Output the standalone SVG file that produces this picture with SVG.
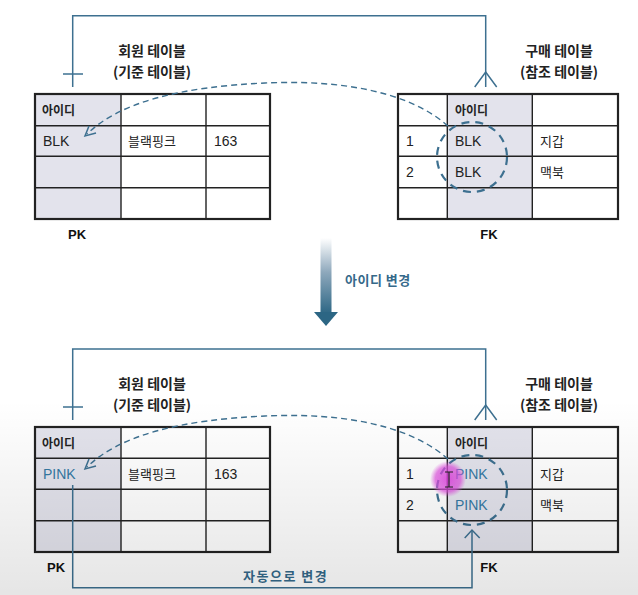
<svg xmlns="http://www.w3.org/2000/svg" width="638" height="595" viewBox="0 0 638 595">
<defs>
<style>
.title{font-family:"Noto Sans CJK KR","Liberation Sans",sans-serif;font-size:14px;font-weight:bold;fill:#222;text-anchor:middle;}
.hdr{font-family:"Noto Sans CJK KR",sans-serif;font-size:12px;font-weight:bold;fill:#222;}
.cell{font-family:"Liberation Sans","Noto Sans CJK KR",sans-serif;font-size:14px;fill:#222;}
.kr{font-family:"Noto Sans CJK KR",sans-serif;font-size:13px;fill:#222;}
.pink{fill:#3579a3;}
.key{font-family:"Liberation Sans",sans-serif;font-size:13px;font-weight:bold;fill:#111;text-anchor:middle;}
.note{font-family:"Noto Sans CJK KR",sans-serif;font-size:13px;font-weight:bold;fill:#35698a;letter-spacing:1.5px;}
.shade{fill:#e3e3ec;}
.outer{fill:none;stroke:#222;stroke-width:2.2;}
.grid{stroke:#222;stroke-width:1.4;fill:none;}
.conn{fill:none;stroke:#3d7090;stroke-width:1.5;}
.dash{fill:none;stroke:#3d7090;stroke-width:1.4;stroke-dasharray:6 4;}
.circ{fill:none;stroke:#3d7090;stroke-width:2.2;stroke-dasharray:8 6;}
</style>
<linearGradient id="arrowGrad" x1="0" y1="0" x2="0" y2="1">
<stop offset="0" stop-color="#ffffff"/>
<stop offset="0.45" stop-color="#8ea8bc"/>
<stop offset="1" stop-color="#2c6684"/>
</linearGradient>
<linearGradient id="bgShade" x1="0" y1="0" x2="0" y2="1">
<stop offset="0" stop-color="#000" stop-opacity="0"/>
<stop offset="1" stop-color="#000" stop-opacity="0.1"/>
</linearGradient>
<radialGradient id="pinkGlow">
<stop offset="0" stop-color="#e040e0" stop-opacity="0.85"/>
<stop offset="0.7" stop-color="#e050e0" stop-opacity="0.7"/>
<stop offset="1" stop-color="#e060e0" stop-opacity="0"/>
</radialGradient>
</defs>
<rect width="638" height="595" fill="#ffffff"/>

<!-- ===== TOP ===== -->
<g id="member-table-top">
<text class="title" x="152" y="56">회원 테이블</text>
<text class="title" x="152" y="77">(기준 테이블)</text>
<rect class="shade" x="35" y="94" width="86" height="125"/>
<path class="grid" d="M121,94V219M206,94V219M35,125.7H270M35,156.3H270M35,187.7H270"/>
<rect class="outer" x="35" y="94" width="235" height="125"/>
<text class="hdr" x="42" y="115">아이디</text>
<text class="cell" x="43" y="146">BLK</text>
<text class="kr" x="128" y="146">블랙핑크</text>
<text class="cell" x="214" y="146">163</text>
<text class="key" x="77" y="239">PK</text>
</g>

<g id="purchase-table-top">
<text class="title" x="559" y="56">구매 테이블</text>
<text class="title" x="559" y="77">(참조 테이블)</text>
<rect class="shade" x="447.3" y="94" width="85" height="125"/>
<path class="grid" d="M447.3,94V219M532.3,94V219M398,125.7H618M398,156.3H618M398,187.7H618"/>
<rect class="outer" x="398" y="94" width="220" height="125"/>
<text class="hdr" x="455" y="115">아이디</text>
<text class="cell" x="406" y="146">1</text>
<text class="cell" x="455" y="146">BLK</text>
<text class="kr" x="540" y="146">지갑</text>
<text class="cell" x="406" y="177">2</text>
<text class="cell" x="455" y="177">BLK</text>
<text class="kr" x="540" y="177">맥북</text>
<text class="key" x="489" y="239">FK</text>
</g>

<g id="connectors-top">
<path class="conn" d="M72.7,87V15.7H485.7V87"/>
<path class="conn" d="M63,74H83"/>
<path class="conn" d="M474.7,87L485.7,72L496.7,87"/>
<path class="dash" d="M448,126C405,88 330,80 265,83C180,87 120,102 87,134"/>
<path class="conn" d="M89,126L85,136L96,133"/>
<circle class="circ" cx="472" cy="157" r="35"/>
</g>

<!-- ===== MIDDLE ===== -->
<g id="change-arrow">
<rect x="320.5" y="238" width="11" height="76" fill="url(#arrowGrad)"/>
<path d="M314,312H338L326,326Z" fill="#2c6684"/>
<text class="note" x="345" y="285" style="letter-spacing:0.5px">아이디 변경</text>
</g>

<!-- ===== BOTTOM ===== -->
<g id="member-table-bottom">
<text class="title" x="152" y="389">회원 테이블</text>
<text class="title" x="152" y="410">(기준 테이블)</text>
<rect class="shade" x="35" y="427" width="86" height="125"/>
<path class="grid" d="M121,427V552M206,427V552M35,458.3H270M35,489.3H270M35,520.7H270"/>
<rect class="outer" x="35" y="427" width="235" height="125"/>
<text class="hdr" x="42" y="448">아이디</text>
<text class="cell pink" x="43" y="479">PINK</text>
<text class="kr" x="128" y="479">블랙핑크</text>
<text class="cell" x="214" y="479">163</text>
<text class="key" x="56" y="572">PK</text>
</g>

<g id="purchase-table-bottom">
<text class="title" x="559" y="389">구매 테이블</text>
<text class="title" x="559" y="410">(참조 테이블)</text>
<rect class="shade" x="447.3" y="427" width="85" height="125"/>
<path class="grid" d="M447.3,427V552M532.3,427V552M398,458.3H618M398,489.3H618M398,520.7H618"/>
<rect class="outer" x="398" y="427" width="220" height="125"/>
<text class="hdr" x="455" y="448">아이디</text>
<text class="cell" x="406" y="479">1</text>
<text class="cell pink" x="455" y="479">PINK</text>
<text class="kr" x="540" y="479">지갑</text>
<text class="cell" x="406" y="510">2</text>
<text class="cell pink" x="455" y="510">PINK</text>
<text class="kr" x="540" y="510">맥북</text>
<text class="key" x="489" y="572">FK</text>
</g>

<g id="connectors-bottom">
<path class="conn" d="M72.7,420V349H485.7V420"/>
<path class="conn" d="M63,407H83"/>
<path class="conn" d="M474.7,420L485.7,405L496.7,420"/>
<path class="dash" d="M448,459C405,421 330,413 265,416C180,420 120,435 87,467"/>
<path class="conn" d="M89,459L85,469L96,466"/>
<circle class="circ" cx="472" cy="490" r="35"/>
<path class="conn" d="M72.7,485V587.7H472V531"/>
<path class="conn" d="M464.7,538L472,530L479.7,538"/>
<text class="note" x="243" y="581">자동으로 변경</text>
</g>

<g id="cursor">
<circle cx="448" cy="479" r="18" fill="url(#pinkGlow)"/>
<path d="M449,472V487M445,472H453M445,487H453" stroke="#222" stroke-width="1.2" fill="none"/>
</g>

<rect x="0" y="400" width="638" height="195" fill="url(#bgShade)"/>
</svg>
